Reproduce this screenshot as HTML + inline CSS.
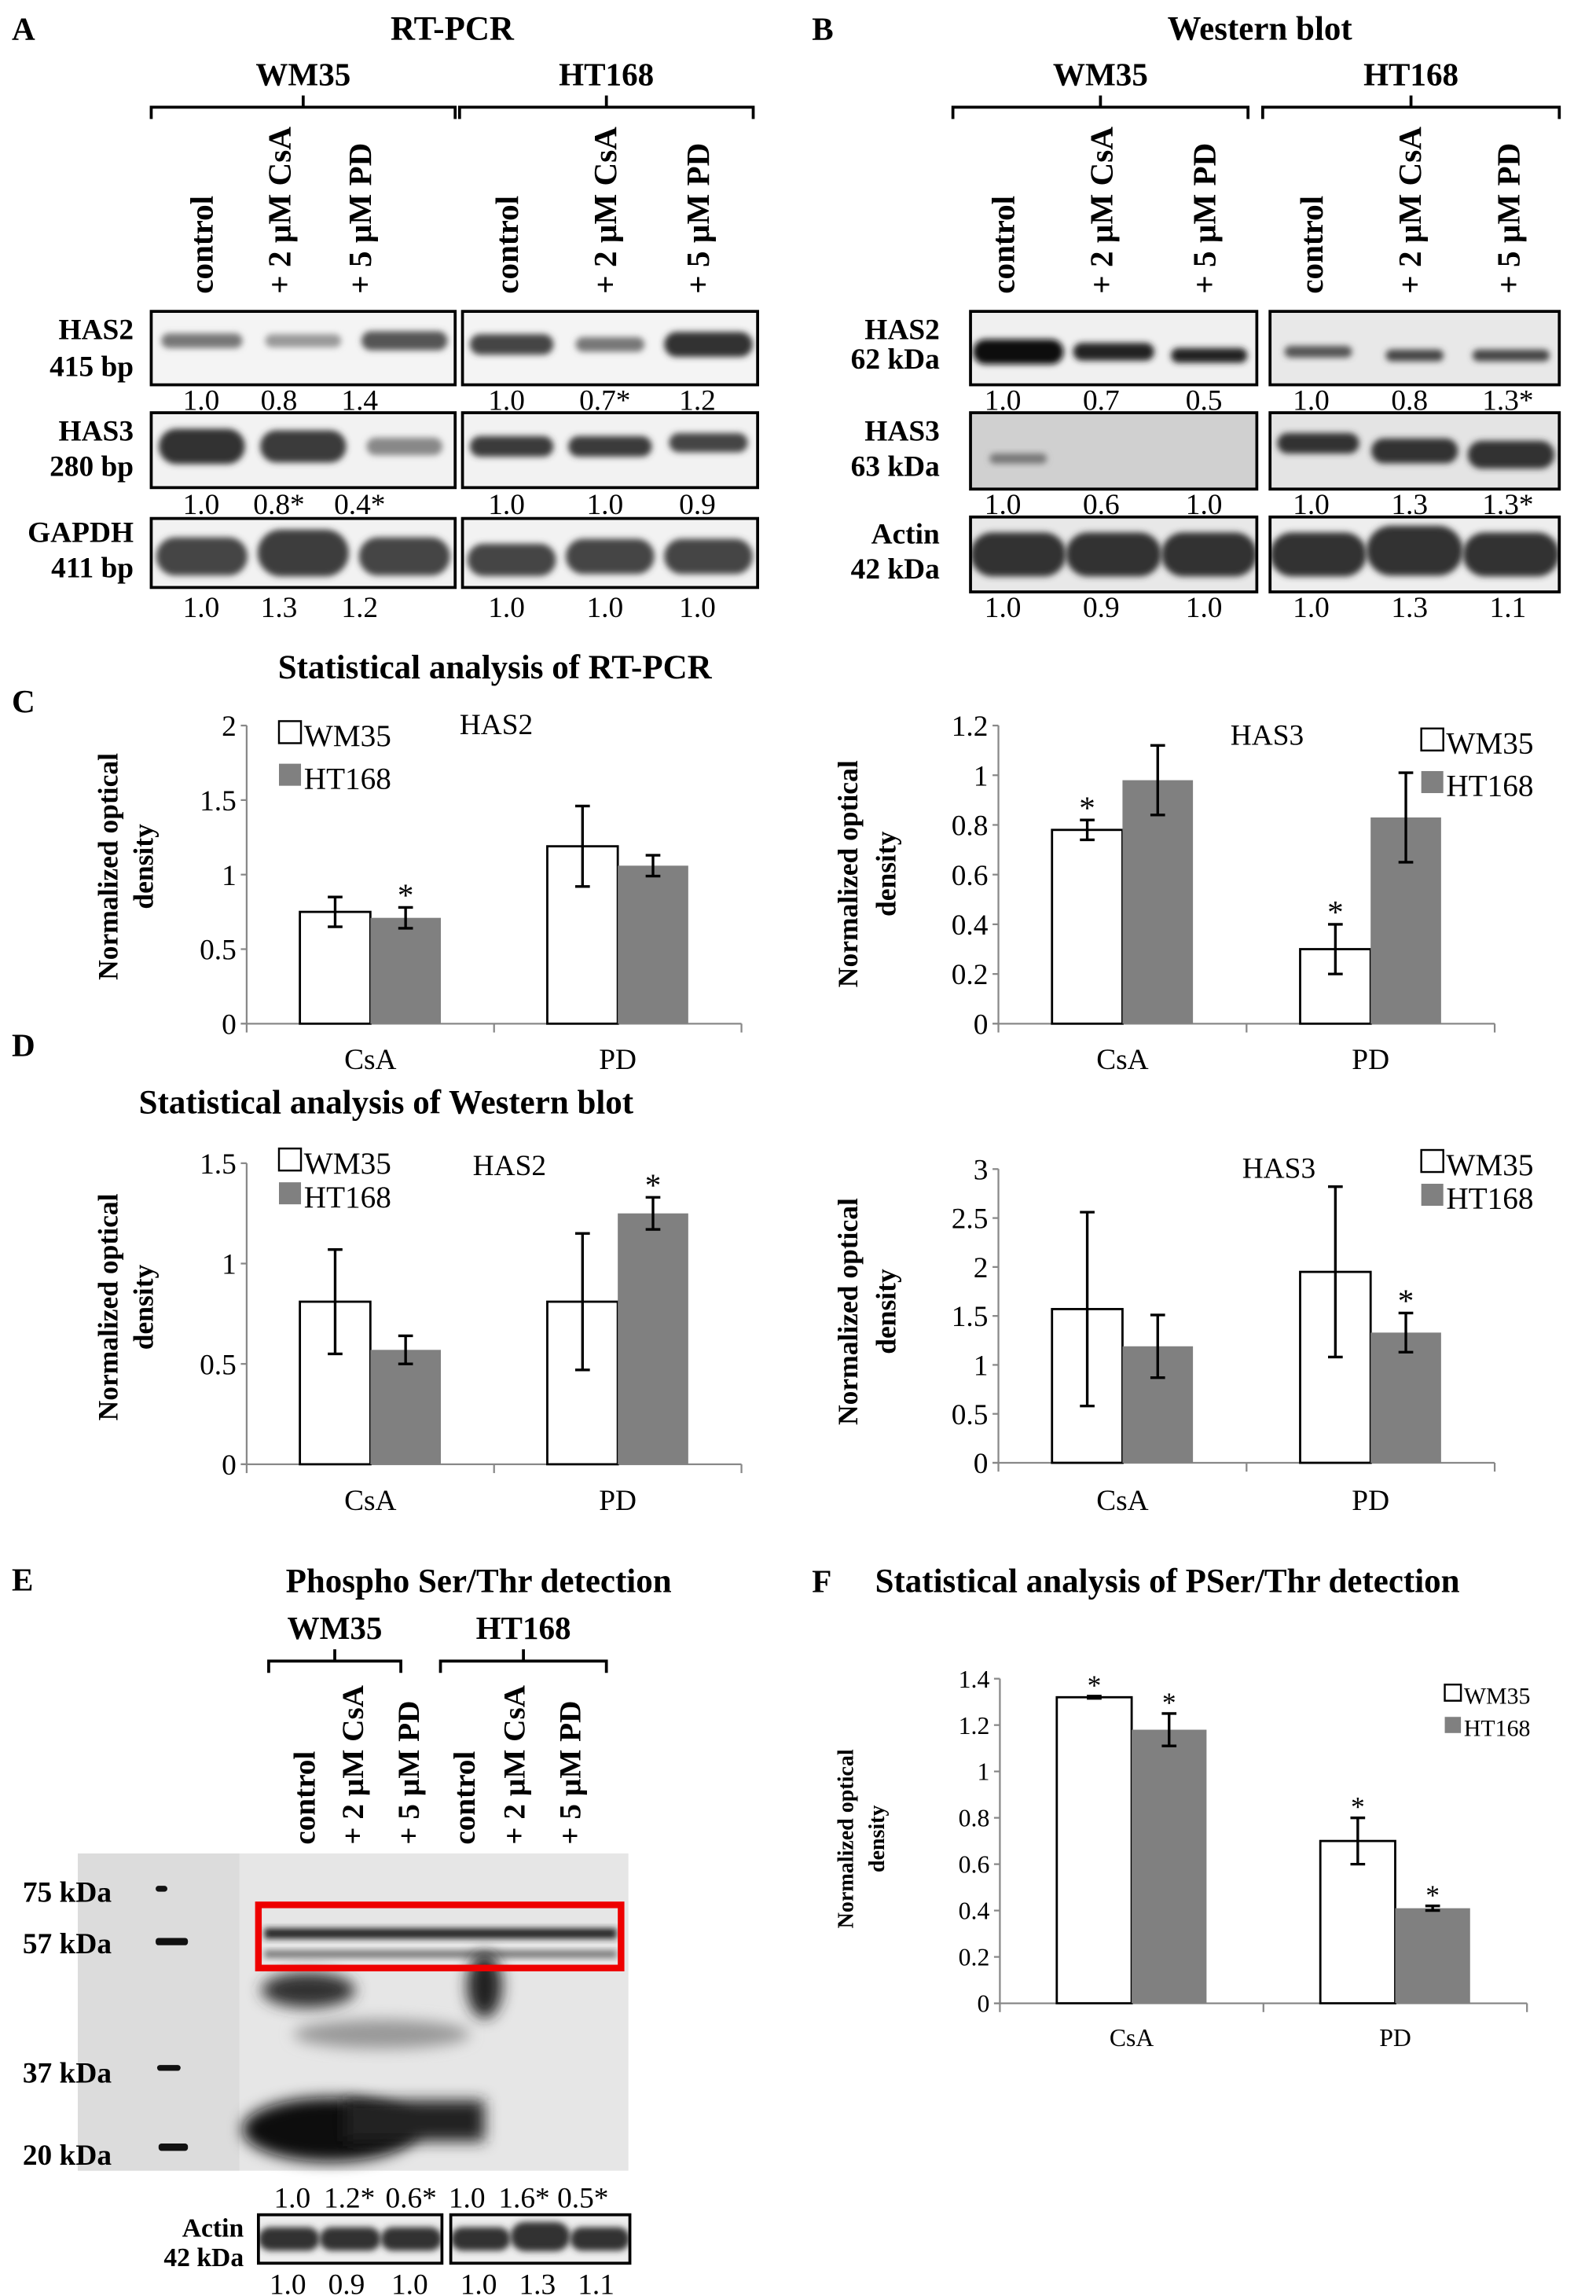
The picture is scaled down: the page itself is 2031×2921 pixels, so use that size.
<!DOCTYPE html>
<html><head><meta charset="utf-8">
<style>
html,body{margin:0;padding:0;background:#fff;}
svg{display:block;font-family:"Liberation Serif",serif;}
</style></head>
<body>
<svg id="fig" xmlns="http://www.w3.org/2000/svg" width="2031" height="2921" viewBox="0 0 1087 1563.3">
<defs>
<filter id="blur" x="-20%" y="-50%" width="140%" height="200%"><feGaussianBlur stdDeviation="2.2"/></filter>
<filter id="blur2" x="-50%" y="-50%" width="200%" height="200%"><feGaussianBlur stdDeviation="5"/></filter>
</defs>
<g id="root"></g>
</svg>
<script>
// ---- chart data ----
const cats = ["CsA", "PD"];
const c1Wm = [0.75, 1.19], c1WmErr = [0.10, 0.27], c1Ht = [0.71, 1.06], c1HtErr = [0.07, 0.07];
const c1WmStar = [false, false], c1HtStar = [true, false];
const c1Ticks = ["0", "0.5", "1", "1.5", "2"];
const c2Wm = [0.78, 0.30], c2WmErr = [0.04, 0.10], c2Ht = [0.98, 0.83], c2HtErr = [0.14, 0.18];
const c2WmStar = [true, true], c2HtStar = [false, false];
const c2Ticks = ["0", "0.2", "0.4", "0.6", "0.8", "1", "1.2"];
const d1Wm = [0.81, 0.81], d1WmErr = [0.26, 0.34], d1Ht = [0.57, 1.25], d1HtErr = [0.07, 0.08];
const d1WmStar = [false, false], d1HtStar = [false, true];
const d1Ticks = ["0", "0.5", "1", "1.5"];
const d2Wm = [1.57, 1.95], d2WmErr = [0.99, 0.87], d2Ht = [1.19, 1.33], d2HtErr = [0.32, 0.20];
const d2WmStar = [false, false], d2HtStar = [false, true];
const d2Ticks = ["0", "0.5", "1", "1.5", "2", "2.5", "3"];
const fWm = [1.32, 0.70], fWmErr = [0.005, 0.10], fHt = [1.18, 0.41], fHtErr = [0.07, 0.01];
const fWmStar = [true, true], fHtStar = [true, true];
const fTicks = ["0", "0.2", "0.4", "0.6", "0.8", "1", "1.2", "1.4"];

const NS = "http://www.w3.org/2000/svg";
const root = document.getElementById("root");
function mk(tag, attrs, parent, text) {
  const e = document.createElementNS(NS, tag);
  for (const k in attrs) e.setAttribute(k, attrs[k]);
  if (text !== undefined) e.textContent = text;
  (parent || root).appendChild(e);
  return e;
}
function txt(x, y, s, size, name, opts) {
  opts = opts || {};
  const t = mk("text", {x: x, y: y, "font-size": size, "text-anchor": opts.anchor || "middle", "font-weight": opts.bold ? "bold" : "normal"}, opts.parent, s);
  if (opts.rot) t.setAttribute("transform", "rotate(-90 " + x + " " + y + ")");
  
  
  return t;
}

function chart(cfg) {
  const g = mk("g", {});
  
  
  const maxV = parseFloat(cfg.ticks[cfg.ticks.length - 1]);
  const yS = v => cfg.y0 - (v / maxV) * (cfg.y0 - cfg.yTop);
  const n = cats.length, span = (cfg.xEnd - cfg.x0) / n;
  const xC = i => cfg.x0 + span * (i + 0.5);
  const ax = mk("line", {x1: cfg.x0, y1: cfg.yTop, x2: cfg.x0, y2: cfg.y0, stroke: "#888", "stroke-width": 1.2}, g);
  
  
  const bx = mk("line", {x1: cfg.x0 - 4, y1: cfg.y0, x2: cfg.xEnd, y2: cfg.y0, stroke: "#888", "stroke-width": 1.2}, g);
  
  
  for (let i = 0; i <= n; i++) {
    const xx = cfg.x0 + span * i;
    const tk = mk("line", {x1: xx, y1: cfg.y0, x2: xx, y2: cfg.y0 + 6, stroke: "#888", "stroke-width": 1.2}, g);
    
    
  }
  cfg.ticks.forEach(t => {
    const yy = yS(parseFloat(t));
    const tk = mk("line", {x1: cfg.x0 - 4, y1: yy, x2: cfg.x0, y2: yy, stroke: "#888", "stroke-width": 1.2}, g);
    
    
    txt(cfg.x0 - 7, yy + cfg.fs * 0.35, t, cfg.fs, "y-tick-label", {anchor: "end", parent: g});
  });
  const w = cfg.bw;
  function bar(i, v, e, star, wm) {
    const x = wm ? xC(i) - w : xC(i);
    const y = yS(v);
    const r = mk("rect", {x: x, y: y, width: w, height: cfg.y0 - y, fill: wm ? "#fff" : "#808080", stroke: wm ? "#000" : "none", "stroke-width": 1.5}, g);
    
    
    const cx = x + w / 2, t = yS(v + e), b = yS(v - e);
    const eb = mk("path", {d: "M" + cx + " " + t + "V" + b + "M" + (cx - 5) + " " + t + "H" + (cx + 5) + "M" + (cx - 5) + " " + b + "H" + (cx + 5), stroke: "#000", "stroke-width": 1.8, fill: "none"}, g);
    
    
    if (star) txt(cx, t - 1, "*", cfg.fs + 2, "significance-star", {parent: g});
  }
  for (let i = 0; i < n; i++) {
    bar(i, cfg.wm[i], cfg.wmE[i], cfg.wmS[i], true);
    bar(i, cfg.ht[i], cfg.htE[i], cfg.htS[i], false);
    txt(xC(i), cfg.y0 + cfg.catDy, cats[i], cfg.fs, "category-label", {parent: g});
  }
  const L = cfg.leg;
  const s1 = mk("rect", {x: L.x, y: L.y1 - L.sz, width: L.sz - 2, height: L.sz - 2, fill: "#fff", stroke: "#000", "stroke-width": 1.3}, g);
  
  
  txt(L.x + L.sz, L.y1, "WM35", L.fs, "legend-entry-wm35", {anchor: "start", parent: g});
  const s2 = mk("rect", {x: L.x, y: L.y2 - L.sz, width: L.sz - 2, height: L.sz - 2, fill: "#808080"}, g);
  
  
  txt(L.x + L.sz, L.y2, "HT168", L.fs, "legend-entry-ht168", {anchor: "start", parent: g});
  if (cfg.label) txt(cfg.label[0], cfg.label[1], cfg.label[2], cfg.fs, "chart-label", {parent: g});
  txt(cfg.yt[0], cfg.yt[2], "Normalized optical", cfg.ytfs, "y-axis-title", {rot: true, bold: true, parent: g});
  txt(cfg.yt[1], cfg.yt[2], "density", cfg.ytfs, "y-axis-title", {rot: true, bold: true, parent: g});
}

chart({name: "chart-rtpcr-has2", x0: 168, xEnd: 505, y0: 697, yTop: 494, ticks: c1Ticks, wm: c1Wm, wmE: c1WmErr, ht: c1Ht, htE: c1HtErr, wmS: c1WmStar, htS: c1HtStar, bw: 48, fs: 20, catDy: 31,
  leg: {x: 190, y1: 508, y2: 537, sz: 17, fs: 21}, label: [338, 500, "HAS2"], yt: [80, 104, 590], ytfs: 19});
chart({name: "chart-rtpcr-has3", x0: 680, xEnd: 1018, y0: 697, yTop: 494, ticks: c2Ticks, wm: c2Wm, wmE: c2WmErr, ht: c2Ht, htE: c2HtErr, wmS: c2WmStar, htS: c2HtStar, bw: 48, fs: 20, catDy: 31,
  leg: {x: 968, y1: 513, y2: 542, sz: 17, fs: 21}, label: [863, 507, "HAS3"], yt: [584, 610, 595], ytfs: 19});
chart({name: "chart-western-has2", x0: 168, xEnd: 505, y0: 997, yTop: 792, ticks: d1Ticks, wm: d1Wm, wmE: d1WmErr, ht: d1Ht, htE: d1HtErr, wmS: d1WmStar, htS: d1HtStar, bw: 48, fs: 20, catDy: 31,
  leg: {x: 190, y1: 799, y2: 822, sz: 17, fs: 21}, label: [347, 800, "HAS2"], yt: [80, 104, 890], ytfs: 19});
chart({name: "chart-western-has3", x0: 680, xEnd: 1018, y0: 996, yTop: 796, ticks: d2Ticks, wm: d2Wm, wmE: d2WmErr, ht: d2Ht, htE: d2HtErr, wmS: d2WmStar, htS: d2HtStar, bw: 48, fs: 20, catDy: 32,
  leg: {x: 968, y1: 800, y2: 823, sz: 17, fs: 21}, label: [871, 802, "HAS3"], yt: [584, 610, 893], ytfs: 19});
chart({name: "chart-pserthr", x0: 681, xEnd: 1040, y0: 1364, yTop: 1143, ticks: fTicks, wm: fWm, wmE: fWmErr, ht: fHt, htE: fHtErr, wmS: fWmStar, htS: fHtStar, bw: 51, fs: 17, catDy: 29,
  leg: {x: 984, y1: 1160, y2: 1182, sz: 13, fs: 16}, label: null, yt: [581, 602, 1252], ytfs: 15});

txt(8, 27, "A", 22, "panel-letter-a", {anchor: "start", bold: true});
txt(553, 27, "B", 22, "panel-letter-b", {anchor: "start", bold: true});
txt(8, 485, "C", 22, "panel-letter-c", {anchor: "start", bold: true});
txt(8, 719, "D", 22, "panel-letter-d", {anchor: "start", bold: true});
txt(8, 1083, "E", 22, "panel-letter-e", {anchor: "start", bold: true});
txt(553, 1084, "F", 22, "panel-letter-f", {anchor: "start", bold: true});
txt(308, 27, "RT-PCR", 23, "title-rtpcr", {bold: true});
txt(858, 27, "Western blot", 23, "title-western", {bold: true});
txt(337, 462, "Statistical analysis of RT-PCR", 23, "title-stat-rtpcr", {bold: true});
txt(263, 758, "Statistical analysis of Western blot", 23, "title-stat-western", {bold: true});
txt(326, 1084, "Phospho Ser/Thr detection", 23, "title-phospho", {bold: true});
txt(596, 1084, "Statistical analysis of PSer/Thr detection", 23, "title-stat-phospho", {bold: true, anchor: "start"});

function bracket(x1, x2, y, label, ly, name) {
  const c = (x1 + x2) / 2;
  const p = mk("path", {d: "M" + x1 + " " + (y + 8) + "V" + y + "H" + x2 + "V" + (y + 8) + "M" + c + " " + y + "V" + (y - 8), stroke: "#000", "stroke-width": 2, fill: "none"});
  
  
  txt(c, ly, label, 22, name + '-label', {bold: true});
}
function lanes(xs, yb, fs, name) {
  const labels = ["control", "+ 2 \u00b5M CsA", "+ 5 \u00b5M PD"];
  xs.forEach((x, i) => txt(x + fs * 0.35, yb, labels[i % 3], fs, name, {anchor: "start", bold: true, rot: true}));
}
bracket(103, 310, 73, "WM35", 58, "rtpcr-wm35");
bracket(313, 513, 73, "HT168", 58, "rtpcr-ht168");
bracket(649, 850, 73, "WM35", 58, "western-wm35");
bracket(860, 1062, 73, "HT168", 58, "western-ht168");
lanes([137, 190, 245, 345, 412, 475], 200, 22, "lane-label");
lanes([683, 750, 820, 893, 960, 1027], 200, 22, "lane-label");
bracket(183, 273, 1131, "WM35", 1116, "phospho-wm35");
bracket(300, 413, 1131, "HT168", 1116, "phospho-ht168");
lanes([207, 240, 278, 316, 350, 388], 1256, 21, "lane-label");

function gel(x, y, w, h, bg, bands, name) {
  const g = mk("g", {});
  
  
  mk("rect", {x: x, y: y, width: w, height: h, fill: bg}, g);
  const cl = "cl" + Math.round(x) + "_" + Math.round(y);
  const cp = mk("clipPath", {id: cl}, g);
  mk("rect", {x: x, y: y, width: w, height: h}, cp);
  const bg2 = mk("g", {"clip-path": "url(#" + cl + ")"}, g);
  const lw = w / 3;
  bands.forEach((b, i) => {
    if (!b) return;
    const cx = x + lw * (i + 0.5);
    mk("rect", {x: cx - lw * b.w / 2, y: y + h * b.y - b.h / 2, width: lw * b.w, height: b.h, rx: b.h / 2, fill: b.c, filter: "url(#blur)"}, bg2);
  });
  mk("rect", {x: x, y: y, width: w, height: h, fill: "none", stroke: "#000", "stroke-width": 2}, g);
}
function vals(xs, y, arr, name) { arr.forEach((s, i) => txt(xs[i], y, s, 20, name)); }
const rtX = [137, 190, 245, 345, 412, 475], wbX = [683, 750, 820, 893, 960, 1027];
gel(103, 212, 207, 50, "#f4f4f4", [{w: .8, y: .4, h: 10, c: "#777"}, {w: .75, y: .4, h: 9, c: "#999"}, {w: .85, y: .4, h: 13, c: "#555"}], "gel-has2-wm35");
gel(315, 212, 201, 50, "#f4f4f4", [{w: .85, y: .45, h: 14, c: "#444"}, {w: .7, y: .45, h: 10, c: "#777"}, {w: .9, y: .45, h: 17, c: "#333"}], "gel-has2-ht168");
gel(103, 281, 207, 51, "#f2f2f2", [{w: .85, y: .45, h: 24, c: "#333"}, {w: .85, y: .45, h: 22, c: "#3a3a3a"}, {w: .75, y: .45, h: 12, c: "#888"}], "gel-has3-wm35");
gel(315, 281, 201, 51, "#f2f2f2", [{w: .85, y: .45, h: 14, c: "#3a3a3a"}, {w: .85, y: .45, h: 14, c: "#3a3a3a"}, {w: .8, y: .4, h: 13, c: "#444"}], "gel-has3-ht168");
gel(103, 353, 207, 47, "#f2f2f2", [{w: .9, y: .55, h: 26, c: "#444"}, {w: .9, y: .5, h: 32, c: "#3e3e3e"}, {w: .9, y: .55, h: 26, c: "#444"}], "gel-gapdh-wm35");
gel(315, 353, 201, 47, "#f2f2f2", [{w: .9, y: .6, h: 22, c: "#444"}, {w: .9, y: .55, h: 24, c: "#444"}, {w: .9, y: .55, h: 24, c: "#444"}], "gel-gapdh-ht168");
vals(rtX, 279, ["1.0", "0.8", "1.4", "1.0", "0.7*", "1.2"], "density-value");
vals(rtX, 350, ["1.0", "0.8*", "0.4*", "1.0", "1.0", "0.9"], "density-value");
vals(rtX, 420, ["1.0", "1.3", "1.2", "1.0", "1.0", "1.0"], "density-value");
[["HAS2", 231], ["415 bp", 256], ["HAS3", 300], ["280 bp", 324], ["GAPDH", 369], ["411 bp", 393]].forEach(a => txt(91, a[1], a[0], 20, "gel-row-label", {anchor: "end", bold: true}));
gel(661, 212, 195, 50, "#f0f0f0", [{w: .95, y: .55, h: 17, c: "#111"}, {w: .85, y: .55, h: 12, c: "#222"}, {w: .8, y: .6, h: 10, c: "#222"}], "blot-has2-wm35");
gel(865, 212, 197, 50, "#e8e8e8", [{w: .7, y: .55, h: 8, c: "#555"}, {w: .6, y: .6, h: 8, c: "#444"}, {w: .8, y: .6, h: 8, c: "#444"}], "blot-has2-ht168");
gel(661, 281, 195, 52, "#d0d0d0", [{w: .6, y: .6, h: 7, c: "#777"}, null, null], "blot-has3-wm35");
gel(865, 281, 197, 52, "#e4e4e4", [{w: .85, y: .4, h: 14, c: "#333"}, {w: .9, y: .5, h: 17, c: "#333"}, {w: .9, y: .55, h: 19, c: "#333"}], "blot-has3-ht168");
gel(661, 352, 195, 51, "#e8e8e8", [{w: 1, y: .5, h: 30, c: "#333"}, {w: 1, y: .5, h: 30, c: "#333"}, {w: 1, y: .5, h: 30, c: "#333"}], "blot-actin-wm35");
gel(865, 352, 197, 51, "#eeeeee", [{w: 1, y: .5, h: 30, c: "#333"}, {w: 1, y: .45, h: 34, c: "#333"}, {w: 1, y: .5, h: 30, c: "#333"}], "blot-actin-ht168");
vals(wbX, 279, ["1.0", "0.7", "0.5", "1.0", "0.8", "1.3*"], "density-value");
vals(wbX, 350, ["1.0", "0.6", "1.0", "1.0", "1.3", "1.3*"], "density-value");
vals(wbX, 420, ["1.0", "0.9", "1.0", "1.0", "1.3", "1.1"], "density-value");
[["HAS2", 231], ["62 kDa", 251], ["HAS3", 300], ["63 kDa", 324], ["Actin", 370], ["42 kDa", 394]].forEach(a => txt(640, a[1], a[0], 20, "blot-row-label", {anchor: "end", bold: true}));

(function () {
  const g = mk("g", {});
  
  
  mk("rect", {x: 53, y: 1262, width: 375, height: 216, fill: "#e6e6e6"}, g);
  mk("rect", {x: 53, y: 1262, width: 110, height: 216, fill: "#dcdcdc"}, g);
  [[110, 1286, 8, 4], [117, 1322, 22, 5], [115, 1408, 16, 4], [118, 1462, 20, 5]].forEach(m => mk("rect", {x: m[0] - m[2] / 2, y: m[1] - m[3] / 2, width: m[2], height: m[3], rx: 2, fill: "#111"}, g));
  mk("rect", {x: 180, y: 1313, width: 240, height: 7, fill: "#222", filter: "url(#blur)"}, g);
  mk("rect", {x: 180, y: 1328, width: 240, height: 5, fill: "#777", filter: "url(#blur)"}, g);
  mk("ellipse", {cx: 210, cy: 1355, rx: 32, ry: 12, fill: "#333", filter: "url(#blur2)"}, g);
  mk("ellipse", {cx: 330, cy: 1352, rx: 12, ry: 22, fill: "#222", filter: "url(#blur2)"}, g);
  mk("ellipse", {cx: 225, cy: 1450, rx: 60, ry: 22, fill: "#111", filter: "url(#blur2)"}, g);
  mk("rect", {x: 235, y: 1430, width: 95, height: 28, fill: "#222", filter: "url(#blur2)"}, g);
  mk("ellipse", {cx: 260, cy: 1385, rx: 60, ry: 10, fill: "#999", filter: "url(#blur2)"}, g);
  const rb = mk("rect", {x: 176, y: 1297, width: 247, height: 43, fill: "none", stroke: "#e00", "stroke-width": 4.5}, g);
  
  
})();
[["75 kDa", 1295], ["57 kDa", 1330], ["37 kDa", 1418], ["20 kDa", 1474]].forEach(a => txt(76, a[1], a[0], 20, "marker-label", {anchor: "end", bold: true}));
vals([199, 238, 280, 318, 357, 397], 1503, ["1.0", "1.2*", "0.6*", "1.0", "1.6*", "0.5*"], "density-value");
gel(176, 1508, 125, 33, "#eeeeee", [{w: 1, y: .5, h: 16, c: "#333"}, {w: 1, y: .5, h: 16, c: "#333"}, {w: 1, y: .5, h: 16, c: "#333"}], "blot-actin-e-wm35");
gel(307, 1508, 122, 33, "#eeeeee", [{w: 1, y: .5, h: 16, c: "#333"}, {w: 1, y: .45, h: 20, c: "#333"}, {w: 1, y: .5, h: 16, c: "#333"}], "blot-actin-e-ht168");
txt(166, 1523, "Actin", 18, "blot-row-label", {anchor: "end", bold: true});
txt(166, 1543, "42 kDa", 18, "blot-row-label", {anchor: "end", bold: true});
vals([196, 236, 279, 326, 366, 406], 1562, ["1.0", "0.9", "1.0", "1.0", "1.3", "1.1"], "density-value");
</script>
</body></html>
